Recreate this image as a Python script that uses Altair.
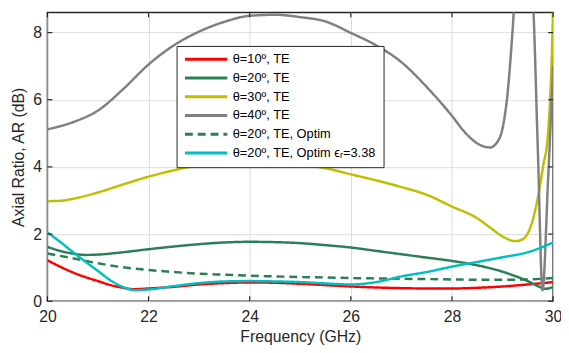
import altair as alt
import pandas as pd

# ---------------- data ----------------
series_names = ["θ=10º, TE", "θ=20º, TE", "θ=30º, TE", "θ=40º, TE",
                "θ=20º, TE, Optim", "θ=20º, TE, Optim ϵᵣ=3.38"]
series_colors = ["#FF0000", "#2A7F55", "#BFBF00", "#808080", "#2A7F55", "#00BFBF"]
series_dashes = [[1, 0], [1, 0], [1, 0], [1, 0], [8, 5], [1, 0]]

f_red = [20, 20.25, 20.5, 20.75, 21, 21.25, 21.5, 21.7, 22, 22.5, 23, 23.5, 24, 24.5,
         25, 25.5, 26, 26.5, 27, 27.5, 28, 28.5, 29, 29.5, 30]
ar_red = [1.22, 1.03, 0.86, 0.72, 0.6, 0.48, 0.40, 0.36, 0.38, 0.43, 0.5, 0.54, 0.56, 0.55,
          0.52, 0.48, 0.44, 0.41, 0.39, 0.38, 0.38, 0.4, 0.44, 0.5, 0.57]

f_green = [20, 20.25, 20.5, 20.75, 21, 21.5, 22, 22.5, 23, 23.5, 24, 24.5, 25, 25.5, 26,
           26.5, 27, 27.5, 28, 28.5, 29, 29.25, 29.5, 29.7, 29.85, 30]
ar_green = [1.62, 1.5, 1.42, 1.38, 1.39, 1.46, 1.55, 1.63, 1.7, 1.75, 1.77, 1.76, 1.73, 1.67, 1.6,
            1.5, 1.4, 1.3, 1.2, 1.07, 0.88, 0.75, 0.6, 0.45, 0.37, 0.43]

f_yellow = [20, 20.25, 20.5, 21, 21.5, 22, 22.5, 23, 23.5, 24, 24.5, 25, 25.5, 26, 26.5, 27,
            27.5, 28, 28.5, 28.75, 29, 29.25, 29.4, 29.55, 29.7, 29.8, 29.9, 29.95, 30]
ar_yellow = [2.98, 2.99, 3.05, 3.24, 3.48, 3.71, 3.9, 4.05, 4.13, 4.16, 4.14, 4.07, 3.96, 3.78,
             3.6, 3.4, 3.17, 2.82, 2.47, 2.2, 1.93, 1.79, 1.85, 2.2, 3.1, 4.0, 5.0, 6.3, 8.7]

f_gray = [20, 20.5, 21, 21.5, 22, 22.5, 23, 23.5, 24, 24.5, 25, 25.5, 26, 26.5, 27, 27.5, 28,
          28.25, 28.5, 28.75, 28.9, 29.0, 29.1, 29.2, 29.3, 29.45, 29.6, 29.7, 29.79, 29.9, 30]
ar_gray = [5.12, 5.33, 5.68, 6.32, 7.05, 7.62, 8.03, 8.32, 8.5, 8.53, 8.46, 8.33, 7.99, 7.62,
           7.12, 6.38, 5.52, 5.04, 4.7, 4.58, 4.75, 5.15, 6.2, 8.1, 10.5, 11.0, 9.0, 4.4, 0.33,
           3.6, 7.0]

f_optim = [20, 20.5, 21, 21.5, 22, 22.5, 23, 23.5, 24, 24.5, 25, 25.5, 26, 26.5, 27, 27.5, 28,
           28.5, 29, 29.5, 30]
ar_optim = [1.42, 1.28, 1.13, 1.01, 0.93, 0.87, 0.82, 0.79, 0.76, 0.74, 0.72, 0.71, 0.69, 0.68,
            0.67, 0.66, 0.65, 0.64, 0.64, 0.65, 0.69]

f_cyan = [20, 20.25, 20.5, 20.75, 21, 21.25, 21.5, 21.75, 22, 22.5, 23, 23.5, 24, 24.5, 25,
          25.5, 26, 26.5, 27, 27.5, 28, 28.5, 29, 29.5, 30]
ar_cyan = [2.05, 1.77, 1.47, 1.18, 0.9, 0.62, 0.42, 0.33, 0.35, 0.45, 0.54, 0.59, 0.6, 0.59,
           0.57, 0.53, 0.5, 0.57, 0.74, 0.87, 1.03, 1.17, 1.31, 1.46, 1.75]

x_ticks = [20, 22, 24, 26, 28, 30]
y_ticks = [0, 2, 4, 6, 8]

# ---------------- build table ----------------
all_f = [f_red, f_green, f_yellow, f_gray, f_optim, f_cyan]
all_v = [ar_red, ar_green, ar_yellow, ar_gray, ar_optim, ar_cyan]
rows = []
for k, (name, fs, vs) in enumerate(zip(series_names, all_f, all_v)):
    for i, (f, v) in enumerate(zip(fs, vs)):
        rows.append({"f": f, "v": v, "s": name, "k": k, "i": i})
df = pd.DataFrame(rows)

W, H = 513, 293
FONT = "Liberation Sans"
TXT = "#262626"

xscale = alt.Scale(domain=[20, 30], nice=False, zero=False)
yscale = alt.Scale(domain=[0, 8.6], nice=False, zero=True)

xaxis = alt.Axis(values=x_ticks, title="Frequency (GHz)", ticks=False, tickSize=0, domain=False,
                 grid=True, gridColor="#DCDCDC", gridWidth=1, labelFont=FONT, labelFontSize=16,
                 labelColor=TXT, titleFont=FONT, titleFontSize=16, titleFontWeight="normal",
                 titleColor=TXT, labelPadding=8, titlePadding=4, labelFlush=False)
yaxis = alt.Axis(values=y_ticks, title="Axial Ratio, AR (dB)", ticks=False, tickSize=0,
                 domain=False, grid=True, gridColor="#DCDCDC", gridWidth=1, labelFont=FONT,
                 labelFontSize=16, labelColor=TXT, titleFont=FONT, titleFontSize=16,
                 titleFontWeight="normal", titleColor=TXT, labelPadding=6, titlePadding=6)

legend = alt.Legend(orient="none", legendX=131, legendY=34, title=None, symbolType="stroke",
                    symbolStrokeWidth=3, symbolSize=1849, clipHeight=13,
                    labelFont=FONT, labelFontSize=13,
                    labelColor="#000000", fillColor="white", strokeColor="#262626",
                    padding=7, rowPadding=5, labelLimit=400, labelOffset=4)

lines = alt.Chart(df).mark_line(strokeWidth=2.5, clip=True, interpolate="monotone").encode(
    x=alt.X("f:Q", scale=xscale, axis=xaxis),
    y=alt.Y("v:Q", scale=yscale, axis=yaxis),
    color=alt.Color("s:N", scale=alt.Scale(domain=series_names, range=series_colors),
                    legend=legend, sort=series_names),
    strokeDash=alt.StrokeDash("s:N", scale=alt.Scale(domain=series_names, range=series_dashes),
                              legend=legend, sort=series_names),
    order="i:Q",
)

xt = pd.DataFrame({"f": x_ticks})
yt = pd.DataFrame({"v": y_ticks})
tick_style = dict(color=TXT, strokeWidth=1.2)
tb = alt.Chart(xt).mark_rule(**tick_style).encode(x="f:Q", y=alt.value(H), y2=alt.value(H - 5))
tt = alt.Chart(xt).mark_rule(**tick_style).encode(x="f:Q", y=alt.value(0), y2=alt.value(5))
tl = alt.Chart(yt).mark_rule(**tick_style).encode(y="v:Q", x=alt.value(0), x2=alt.value(5))
tr = alt.Chart(yt).mark_rule(**tick_style).encode(y="v:Q", x=alt.value(W), x2=alt.value(W - 5))

chart = alt.layer(lines, tb, tt, tl, tr).properties(
    width=W, height=H,
    autosize=alt.AutoSizeParams(type="none"),
    padding={"left": 40, "top": 2, "right": 8, "bottom": 50},
).configure_view(stroke="#262626", strokeWidth=1.5)

chart.save("out.html", embed_options={"renderer": "svg", "actions": False})
